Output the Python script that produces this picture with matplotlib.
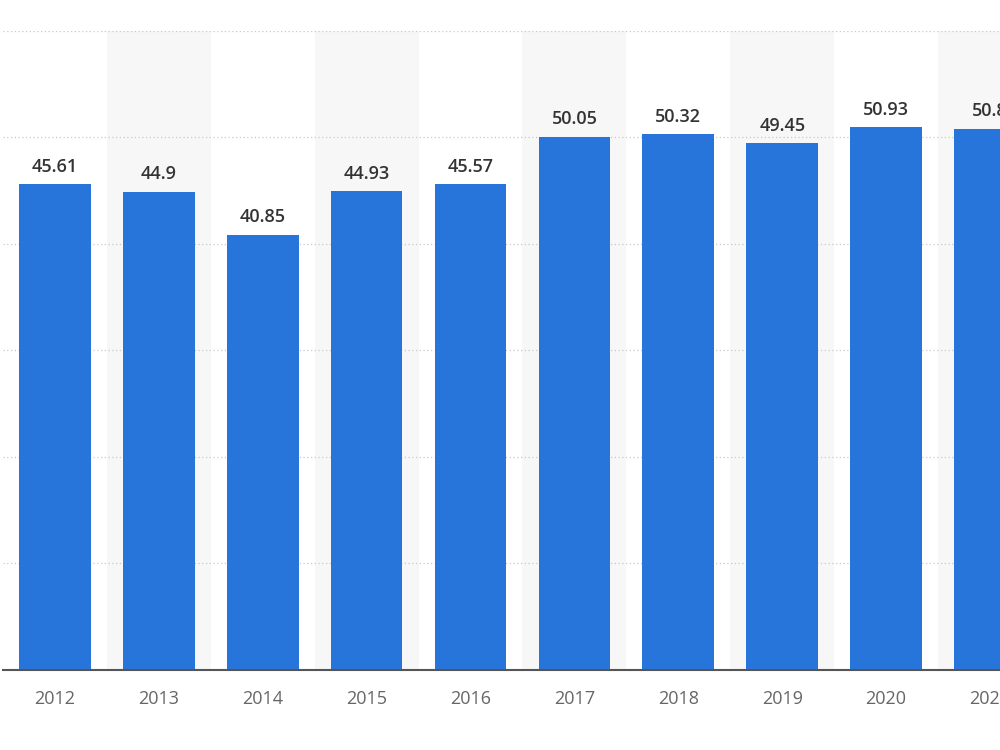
import matplotlib.pyplot as plt

# data
years = ['2012', '2013', '2014', '2015', '2016', '2017', '2018', '2019', '2020', '2021']
values = [45.61, 44.9, 40.85, 44.93, 45.57, 50.05, 50.32, 49.45, 50.93, 50.8]
labels = ['45.61', '44.9', '40.85', '44.93', '45.57', '50.05', '50.32', '49.45', '50.93', '50.8']

fig = plt.figure(figsize=(10, 7.5), dpi=100)
ax = fig.add_axes([0.003, 0.107, 1.0, 0.852])

x = list(range(len(years)))

# alternating background bands
for i in x:
    if i % 2 == 1:
        ax.axvspan(i - 0.5, i + 0.5, color='#f7f7f7', zorder=0, lw=0)

ax.bar(x, values, width=0.69, color='#2775db', zorder=3)

for i, v in enumerate(values):
    ax.annotate(labels[i], (i, v), xytext=(0, 6), textcoords='offset points',
                ha='center', va='bottom', fontsize=13, fontweight='semibold',
                color='#333333', family='Open Sans')

ax.set_xlim(-0.5, 9.125)
ax.set_ylim(0, 60)
ax.set_yticks([10, 20, 30, 40, 50, 60])
ax.yaxis.grid(True, linestyle=(0, (1, 2)), color='#c8c8c8', lw=0.9, zorder=1)
ax.tick_params(axis='y', left=False, labelleft=False)
ax.tick_params(axis='x', bottom=False, pad=11)
ax.set_xticks(x)
ax.set_xticklabels(years, fontsize=13, color='#666666', family='Open Sans')

for s in ['top', 'right', 'left']:
    ax.spines[s].set_visible(False)
ax.spines['bottom'].set_color('#555555')
ax.spines['bottom'].set_linewidth(1.5)
ax.spines['bottom'].set_zorder(4)

plt.savefig('out.png', dpi=100)
